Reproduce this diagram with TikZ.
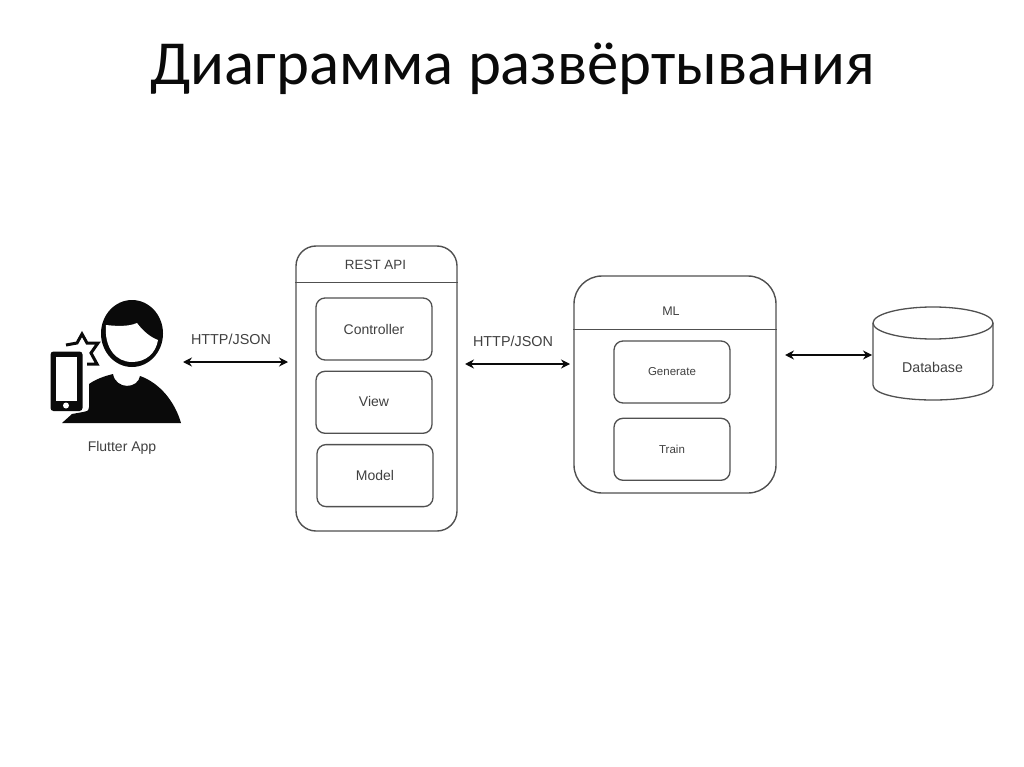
\documentclass[tikz,border=0pt]{standalone}
\usepackage{fontspec}
\setmainfont{Liberation Sans}
\newfontfamily\titlefont{Carlito}
\usetikzlibrary{arrows.meta,positioning}
\definecolor{Ink}{HTML}{0A0A0A}
\definecolor{Line}{HTML}{505050}
\definecolor{Label}{HTML}{404040}
\tikzset{
  outerbox/.style={
    rounded corners=#1, draw=Line, line width=1.4pt, fill=white, inner sep=0pt
  },
  partbox/.style={
    rounded corners=9pt, draw=Line, line width=1.3pt, fill=white, text=Label,
    minimum width=116pt, minimum height=62pt, inner sep=0pt, font=\fontsize{14}{16}\selectfont
  },
  smallpart/.style={partbox, font=\fontsize{11.5}{14}\selectfont},
  caption/.style={text=Label, inner sep=0pt, font=\fontsize{14}{16}\selectfont},
  link/.style={{Stealth[length=9pt,width=9pt,inset=3pt]}-{Stealth[length=9pt,width=9pt,inset=3pt]},
    line width=1.3pt, draw=Ink}
}
\begin{document}
\begin{tikzpicture}[x=1pt,y=-1pt]
        \useasboundingbox (0,0) rectangle (1024,767);
        \node[text=Ink,inner sep=0pt,font=\titlefont\fontsize{62.7}{70}\selectfont] (title) at (512.5,69) {Диаграмма развёртывания};

        % user icon
        \fill[Ink] (132,333.5) ellipse (31 and 33.5);
        \fill[white] (106,325) .. controls (115,326) and (128,327) .. (137,323)
          .. controls (143,331) and (150,337) .. (158,340)
          .. controls (156,353) and (146,362) .. (132,362)
          .. controls (116,362) and (104,348) .. (106,325) -- cycle;
        \fill[Ink] (62,423) -- (181,423) .. controls (175,402) and (160,383) .. (140,376)
          .. controls (138,389) and (116,390) .. (113,374)
          .. controls (105,376) and (96,379) .. (89,384) -- (89,407)
          .. controls (89,411) and (86,412) .. (83,412) -- (72,414) -- cycle;
        \fill[Ink,rounded corners=3pt] (50.5,351.5) rectangle (82.5,411);
        \fill[white] (56,357) rectangle (77,401);
        \fill[white] (66,405.5) circle (3);
        \draw[Ink,line width=3pt] (66,345) -- (77,343) -- (82,334) -- (87,343) -- (98,343)
          -- (91,353) -- (97,364) -- (87,364);
        \node[caption] (app) at (122,448) {Flutter App};
        \coordinate (appport) at (183,362);

        % rest api
        \node[outerbox=20pt,minimum width=161pt,minimum height=285pt] (api) at (376.5,388.5) {};
        \draw[draw=Line,line width=1.3pt] ([yshift=-37pt]api.north west) -- ([yshift=-37pt]api.north east);
        \node[caption,font=\fontsize{13.4}{16}\selectfont] (apititle) at (375.5,265) {REST API};
        \node[partbox] (controller) at (374,329) {\raisebox{-2pt}{Controller}};
        \node[partbox,below=10pt of controller] (view) {\raisebox{1pt}{View}};
        \node[partbox,below=10pt of view,xshift=1pt] (model) {Model};
        \coordinate (apiin) at (288,362);
        \coordinate (apiout) at (465,364);

        % ml
        \node[outerbox=28pt,minimum width=202pt,minimum height=217pt] (ml) at (675,384.5) {};
        \draw[draw=Line,line width=1.3pt] ([yshift=-54pt]ml.north west) -- ([yshift=-54pt]ml.north east);
        \node[caption,font=\fontsize{12.5}{16}\selectfont] (mltitle) at (671,311) {ML};
        \node[smallpart] (generate) at (672,372) {Generate};
        \node[smallpart,below=14pt of generate] (train) {Train};
        \coordinate (mlin) at (570,364);
        \coordinate (mlout) at (785,355);

        % database
        \draw[draw=Line,line width=1.3pt] (933,323) ellipse (60 and 16);
        \draw[draw=Line,line width=1.3pt] (873,323) -- (873,385)
          .. controls (873,394) and (900,400) .. (933,400)
          .. controls (966,400) and (993,394) .. (993,385) -- (993,323);
        \node[caption,font=\fontsize{14.2}{16}\selectfont] (db) at (932.5,367) {Database};
        \coordinate (dbport) at (872,355);

        \node[caption,font=\fontsize{14.4}{16}\selectfont] (http1) at (231,339) {HTTP/JSON};
        \node[caption,font=\fontsize{14.4}{16}\selectfont] (http2) at (513,341) {HTTP/JSON};
        \draw[link] (appport)--(apiin);
        \draw[link] (apiout)--(mlin);
        \draw[link] (mlout)--(dbport);
      \end{tikzpicture}
\end{document}
